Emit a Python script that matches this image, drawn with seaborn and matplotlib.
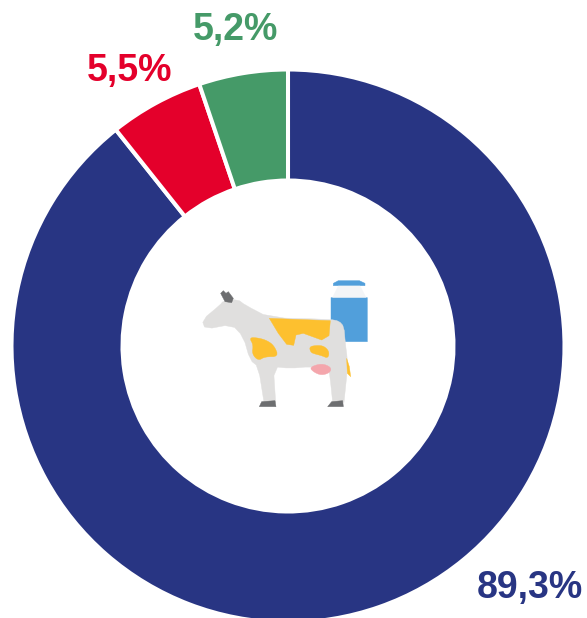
import matplotlib
matplotlib.use('Agg')
import matplotlib.pyplot as plt
import numpy as np
import seaborn as sns
from matplotlib.patches import Polygon

labels = ['89,3%', '5,5%', '5,2%']
shares = [89.3, 5.5, 5.2]
colors = ['#283583', '#E4002B', '#459A68']

sns.set_theme(style='white')
plt.rcParams['font.family'] = ['Liberation Sans', 'DejaVu Sans']
palette = sns.color_palette(colors)

W, H = 587, 618
fig = plt.figure(figsize=(W / 100, H / 100), dpi=100)
# axes in pixels so the ring and the icon line up with the picture
ax = fig.add_axes([0, 0, 1, 1])

ax.pie(shares, colors=palette, startangle=90, counterclock=False,
       center=(288, H - 346), radius=276.5,
       wedgeprops=dict(width=111, edgecolor='white', linewidth=2.9))
ax.set_xlim(0, W)
ax.set_ylim(0, H)
ax.set_aspect('equal')
ax.axis('off')

# percentage labels
label_pos = [(529.5, 588), (130, 71), (236, 30)]
for txt, c, (x, y) in zip(labels, palette, label_pos):
    ax.text(x, H - y, txt, color=c, fontsize=27, fontweight='bold',
            ha='center', va='center')


def soften(points, rounds):
    # cut the corners so traced outlines look drawn, not faceted
    pts = np.array(points, dtype=float)
    for _ in range(rounds):
        nxt = np.roll(pts, -1, axis=0)
        pts = np.column_stack([0.75 * pts + 0.25 * nxt, 0.25 * pts + 0.75 * nxt]).reshape(-1, 2)
    return pts


def icon(points, color, z=3, rounds=0):
    # icon outlines were traced on a 3x crop starting at (190, 270)
    xy = [(190 + px / 3, H - (270 + py / 3)) for px, py in soften(points, rounds)]
    ax.add_patch(Polygon(xy, closed=True, facecolor=color, edgecolor=color,
                         linewidth=0.3, zorder=z, joinstyle='round'))


# milk can
icon([(423, 83), (532, 83), (532, 215), (460, 215), (445, 155), (423, 150)], '#519FDB')
icon([(430, 40), (445, 32), (508, 32), (525, 40), (525, 47), (430, 47)], '#519FDB')
icon([(445, 48), (510, 48), (528, 82), (428, 82)], '#F3F5F7')
# cow
icon([(36, 150), (90, 105), (100, 93), (143, 88), (165, 105), (238, 143), (420, 148),
      (447, 153), (462, 170), (466, 220), (472, 265), (472, 300), (462, 397), (462, 397),
      (428, 397), (428, 397), (420, 320), (415, 295), (360, 290), (300, 295), (250, 290),
      (257, 397), (257, 397), (222, 397), (222, 397), (205, 290), (180, 270), (160, 200),
      (125, 163), (46, 178)], '#E0DFDE', 4, 1)
icon([(238, 145), (421, 152), (417, 197), (395, 210), (340, 190), (318, 195), (311, 226),
      (290, 223), (265, 190)], '#FDC02F', 5)
icon([(178, 203), (200, 203), (228, 210), (252, 226), (266, 260), (225, 260), (205, 272),
      (186, 252), (190, 225)], '#FDC02F', 5, 2)
icon([(358, 230), (380, 226), (402, 228), (418, 245), (414, 265), (395, 257), (375, 252),
      (362, 247)], '#FDC02F', 5, 2)
icon([(358, 292), (395, 280), (424, 292), (420, 308), (395, 316), (372, 307)], '#F4A6AC', 5, 2)
icon([(208, 410), (215, 395), (255, 392), (258, 410)], '#6D6E70', 5)
icon([(413, 410), (425, 395), (458, 392), (460, 410)], '#6D6E70', 5)
icon([(92, 70), (100, 62), (108, 70), (115, 65), (130, 85), (125, 98), (105, 95)], '#6D6E70', 5)
icon([(470, 265), (478, 290), (482, 320), (472, 310)], '#FDC02F', 5)

fig.savefig('out.png', dpi=100)
